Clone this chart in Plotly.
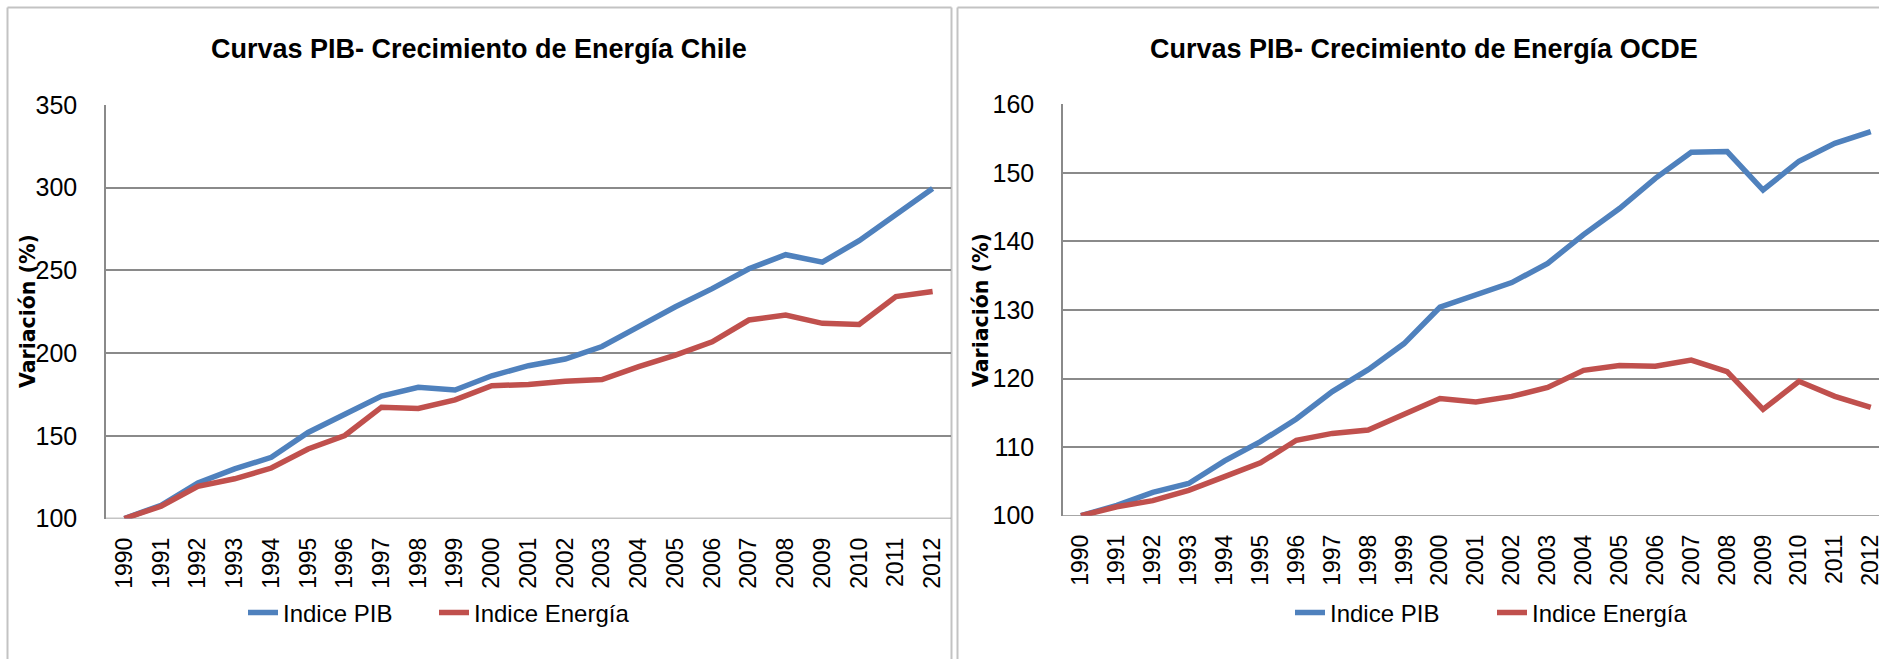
import plotly.graph_objects as go

years = [str(y) for y in range(1990, 2013)]

chile_pib = [100, 108, 121.5, 130, 137, 152, 163, 174, 179.3, 177.7, 186.3, 192.4, 196.4, 204,
             216, 228, 239, 251, 259.5, 255, 268, 284, 299.5]
chile_energia = [100, 107.4, 119.5, 124, 130.5, 142, 150.2, 167.3, 166.5, 171.7, 180.3, 181, 183, 184,
                 191.8, 198.8, 206.8, 220, 223, 218, 217.3, 234.2, 237.3]

ocde_pib = [100, 101.5, 103.4, 104.7, 108.0, 110.8, 114.1, 118.1, 121.3, 125.1, 130.4, 132.2, 134.0,
            136.8, 141.0, 144.8, 149.2, 153.0, 153.1, 147.5, 151.7, 154.3, 156.0]
ocde_energia = [100, 101.3, 102.2, 103.7, 105.7, 107.7, 111.0, 112.0, 112.5, 114.7, 117.1, 116.6, 117.4,
                118.7, 121.2, 121.9, 121.8, 122.7, 121.0, 115.5, 119.6, 117.4, 115.8]

titles = ["Curvas PIB- Crecimiento de Energía Chile", "Curvas PIB- Crecimiento de Energía OCDE"]
series_names = ["Indice PIB", "Indice Energía"]
y_title = "Variación (%)"

BLUE = "#4F81BD"
RED = "#C0504D"
GRID = "#8A8A8A"
BORDER = "#C3C3C3"
FONT = "Liberation Sans, Arial, sans-serif"
LW = 5.5

W, H = 1879, 659
fig = go.Figure()

fig.add_trace(go.Scatter(x=years, y=chile_pib, name=series_names[0], mode="lines",
                         line=dict(color=BLUE, width=LW), xaxis="x", yaxis="y", legend="legend"))
fig.add_trace(go.Scatter(x=years, y=chile_energia, name=series_names[1], mode="lines",
                         line=dict(color=RED, width=LW), xaxis="x", yaxis="y", legend="legend3"))
fig.add_trace(go.Scatter(x=years, y=ocde_pib, name=series_names[0], mode="lines",
                         line=dict(color=BLUE, width=LW), xaxis="x2", yaxis="y2", legend="legend2"))
fig.add_trace(go.Scatter(x=years, y=ocde_energia, name=series_names[1], mode="lines",
                         line=dict(color=RED, width=LW), xaxis="x2", yaxis="y2", legend="legend4"))

ydom1 = [1 - 518.5 / H, 1 - 105 / H]
ydom2 = [1 - 515.7 / H, 1 - 104.3 / H]

xcommon = dict(type="category", showgrid=False, showline=False, ticks="", tickangle=-90,
               tickfont=dict(family=FONT, size=23, color="black"),
               fixedrange=True, automargin=False, anchor="free")
ycommon = dict(showgrid=True, gridcolor=GRID, gridwidth=1.5, showline=True, linecolor=GRID,
               linewidth=1.5, ticks="", zeroline=False,
               tickfont=dict(family=FONT, size=25, color="black"), ticklabelstandoff=22,
               fixedrange=True, automargin=False)

legend_common = dict(orientation="h", y=1 - 613 / H, yanchor="middle", xanchor="left",
                     font=dict(family=FONT, size=24, color="black"), bgcolor="rgba(0,0,0,0)",
                     itemwidth=30)

fig.update_layout(
    width=W, height=H,
    margin=dict(l=0, r=0, t=0, b=0, autoexpand=False),
    paper_bgcolor="white", plot_bgcolor="white",
    xaxis=dict(domain=[106 / W, 951 / W], range=[-0.5, 22.5], position=1 - 532 / H, **xcommon),
    yaxis=dict(domain=ydom1, range=[100, 350], dtick=50, anchor="x", **ycommon),
    xaxis2=dict(domain=[1063 / W, 1.0], range=[-0.5, 22.23], position=1 - 529 / H, **xcommon),
    yaxis2=dict(domain=ydom2, range=[100, 160], dtick=10, anchor="x2", **ycommon),
    legend=dict(x=243 / W, **legend_common),
    legend3=dict(x=434 / W, **legend_common),
    legend2=dict(x=1290 / W, **legend_common),
    legend4=dict(x=1492 / W, **legend_common),
    showlegend=True,
)

annotations = [
    dict(text="<b>%s</b>" % titles[0], x=479 / W, y=1 - 49 / H, xref="paper", yref="paper",
         xanchor="center", yanchor="middle", showarrow=False,
         font=dict(family=FONT, size=27, color="black")),
    dict(text="<b>%s</b>" % titles[1], x=1424 / W, y=1 - 49 / H, xref="paper", yref="paper",
         xanchor="center", yanchor="middle", showarrow=False,
         font=dict(family=FONT, size=27, color="black")),
    dict(text="<b>%s</b>" % y_title, x=28 / W, y=1 - 311 / H, xref="paper", yref="paper",
         xanchor="center", yanchor="middle", showarrow=False, textangle=-90,
         font=dict(family="DejaVu Sans, Verdana, sans-serif", size=20.5, color="black")),
    dict(text="<b>%s</b>" % y_title, x=981 / W, y=1 - 310 / H, xref="paper", yref="paper",
         xanchor="center", yanchor="middle", showarrow=False, textangle=-90,
         font=dict(family="DejaVu Sans, Verdana, sans-serif", size=20.5, color="black")),
]
fig.update_layout(annotations=annotations)

def vline(x, y0, y1):
    return dict(type="line", xref="paper", yref="paper", x0=x, x1=x, y0=y0, y1=y1,
                line=dict(color=BORDER, width=2), layer="below")

def hline(x0, x1, y):
    return dict(type="line", xref="paper", yref="paper", x0=x0, x1=x1, y0=y, y1=y,
                line=dict(color=BORDER, width=2), layer="below")

top = 1 - 7.5 / H
shapes = [
    vline(7.5 / W, -0.05, top), vline(951.5 / W, -0.05, top), hline(7.5 / W, 951.5 / W, top),
    vline(957.5 / W, -0.05, top), hline(957.5 / W, 1.05, top),
    # category axis baselines at the lower end of each value axis
    dict(type="line", xref="x domain", yref="y", x0=0, x1=1, y0=100, y1=100,
         line=dict(color=GRID, width=1.5), layer="below"),
    dict(type="line", xref="x2 domain", yref="y2", x0=0, x1=1, y0=100, y1=100,
         line=dict(color=GRID, width=1.5), layer="below"),
]
fig.update_layout(shapes=shapes)

fig.write_html("out.html", config={"displayModeBar": False},
               post_script="document.body.style.margin='0';document.body.style.overflow='hidden';")
